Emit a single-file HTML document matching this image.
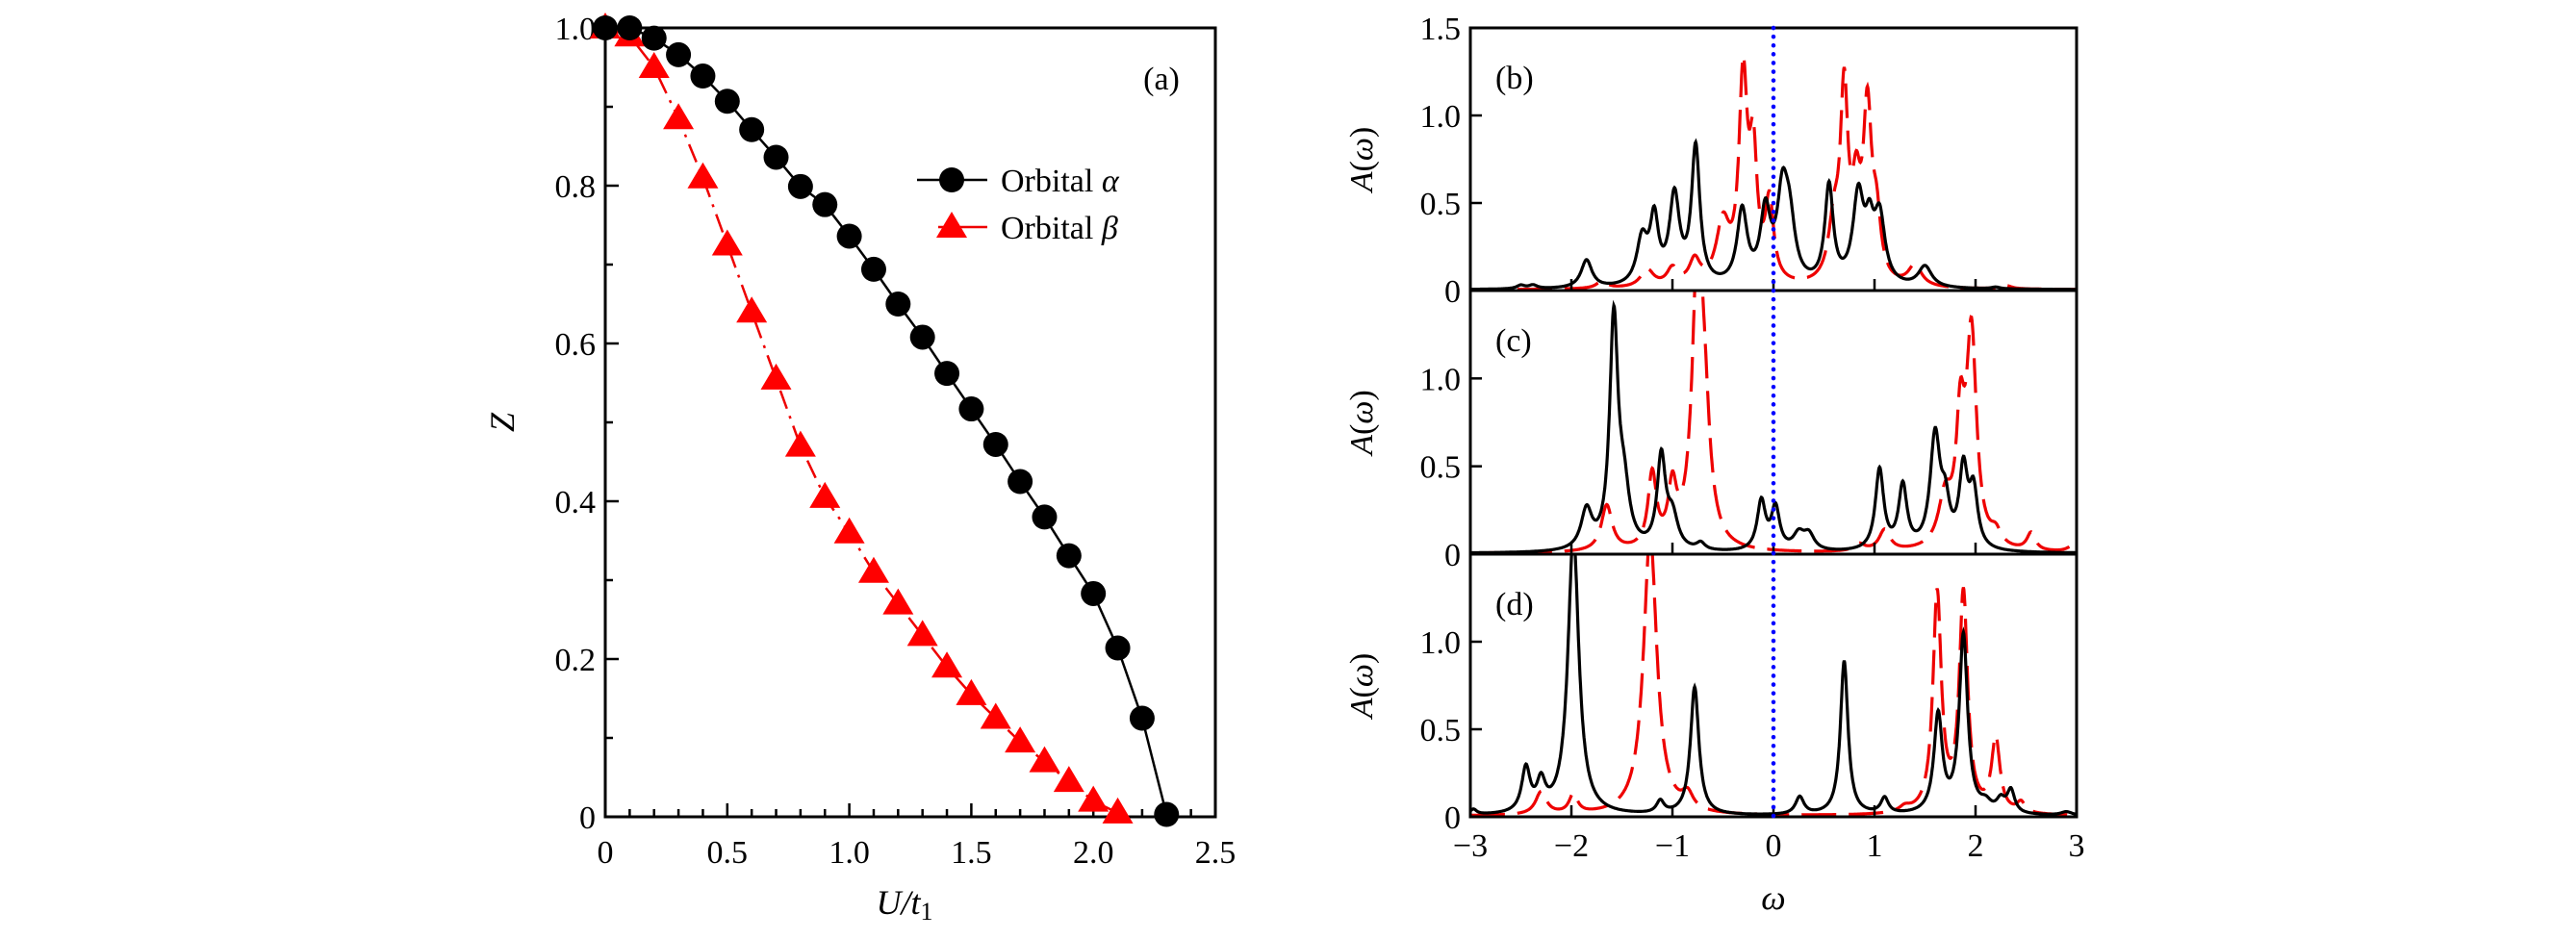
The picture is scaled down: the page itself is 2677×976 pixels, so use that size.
<!DOCTYPE html>
<html><head><meta charset="utf-8">
<style>
html,body{margin:0;padding:0;background:#fff;}
svg{display:block;}
text{font-family:"Liberation Serif","DejaVu Serif",serif;fill:#000;}
</style></head>
<body>
<svg id="fig" width="2677" height="976" viewBox="0 0 2677 976" xmlns="http://www.w3.org/2000/svg">
<defs>
<clipPath id="clipB"><rect x="1528" y="29" width="630" height="273"/></clipPath>
<clipPath id="clipC"><rect x="1528" y="302" width="630" height="274"/></clipPath>
<clipPath id="clipD"><rect x="1528" y="576" width="630" height="273"/></clipPath>
</defs>
<g id="left"></g>
<g id="right"></g>
</svg>
<script>
// ---- Panel (a) data ----
const uAlpha = [0,0.1,0.2,0.3,0.4,0.5,0.6,0.7,0.8,0.9,1.0,1.1,1.2,1.3,1.4,1.5,1.6,1.7,1.8,1.9,2.0,2.1,2.2,2.3];
const zAlpha = [1,1,0.987,0.966,0.939,0.907,0.871,0.836,0.799,0.776,0.736,0.694,0.650,0.608,0.562,0.517,0.472,0.425,0.380,0.331,0.283,0.214,0.125,0.003];
const uBeta = [0,0.1,0.2,0.3,0.4,0.5,0.6,0.7,0.8,0.9,1.0,1.1,1.2,1.3,1.4,1.5,1.6,1.7,1.8,1.9,2.0,2.1];
const zBeta = [1.0,0.99,0.95,0.885,0.81,0.725,0.64,0.555,0.47,0.405,0.36,0.31,0.27,0.23,0.19,0.155,0.125,0.095,0.07,0.045,0.02,0.005];
const aXTicks = [0,0.5,1.0,1.5,2.0,2.5];
const aXTickLabels = ["0","0.5","1.0","1.5","2.0","2.5"];
const aYTicks = [0,0.2,0.4,0.6,0.8,1.0];
const aYTickLabels = ["0","0.2","0.4","0.6","0.8","1.0"];

// ---- Spectral data (peak lists: center, height, half-width) ----
const bBlackC = [-2.5,-2.38,-1.85,-1.3,-1.18,-0.98,-0.77,-0.31,-0.08,0.09,0.16,0.55,0.84,0.95,1.05,1.5,2.2];
const bBlackH = [0.02,0.02,0.16,0.26,0.36,0.5,0.78,0.42,0.4,0.48,0.3,0.56,0.5,0.26,0.38,0.12,0.01];
const bBlackW = [0.05,0.05,0.065,0.065,0.05,0.06,0.05,0.06,0.06,0.065,0.065,0.05,0.065,0.05,0.065,0.08,0.05];
const bRedC = [-1.7,-1.25,-1.0,-0.78,-0.5,-0.3,-0.2,-0.04,0.6,0.7,0.82,0.93,1.02,1.4,2.3];
const bRedH = [0.04,0.1,0.1,0.14,0.34,1.15,0.68,0.45,0.32,1.05,0.45,0.95,0.32,0.12,0.02];
const bRedW = [0.065,0.08,0.065,0.065,0.08,0.05,0.045,0.05,0.065,0.045,0.05,0.05,0.05,0.08,0.065];
const cBlackC = [-1.85,-1.58,-1.48,-1.11,-1.0,-0.72,-0.12,0.02,0.25,0.35,1.05,1.28,1.6,1.7,1.88,1.98];
const cBlackH = [0.22,1.3,0.3,0.52,0.18,0.04,0.28,0.24,0.09,0.09,0.46,0.36,0.64,0.22,0.44,0.32];
const cBlackW = [0.065,0.05,0.065,0.05,0.065,0.05,0.05,0.05,0.065,0.065,0.05,0.05,0.06,0.05,0.05,0.05];
const cRedC = [-1.65,-1.2,-1.0,-0.75,-0.68,0.85,1.1,1.7,1.85,1.96,2.2,2.55,2.95];
const cRedH = [0.26,0.42,0.32,1.6,0.5,0.04,0.12,0.28,0.65,1.2,0.08,0.1,0.03];
const cRedW = [0.065,0.05,0.05,0.065,0.065,0.065,0.065,0.08,0.05,0.06,0.065,0.05,0.065];
const dBlackC = [-2.97,-2.45,-2.3,-1.98,-1.12,-0.78,0.26,0.7,1.1,1.63,1.88,2.1,2.25,2.35,2.9];
const dBlackH = [0.03,0.25,0.16,1.6,0.07,0.73,0.1,0.88,0.09,0.56,1.02,0.05,0.07,0.13,0.02];
const dBlackW = [0.04,0.05,0.05,0.065,0.045,0.05,0.05,0.045,0.045,0.05,0.05,0.065,0.05,0.045,0.065];
const dRedC = [-2.3,-1.98,-1.22,-0.85,1.3,1.62,1.88,2.2,2.45];
const dRedH = [0.13,0.11,1.6,0.09,0.03,1.25,1.25,0.42,0.06];
const dRedW = [0.065,0.05,0.08,0.065,0.065,0.05,0.05,0.05,0.05];
const wTicks = [-3,-2,-1,0,1,2,3];
const wTickLabels = ["\u22123","\u22122","\u22121","0","1","2","3"];

const NS = "http://www.w3.org/2000/svg";
function mk(tag, attrs, parent){const e=document.createElementNS(NS,tag);for(const k in attrs)e.setAttribute(k,attrs[k]);parent.appendChild(e);return e;}

// ---- Panel (a) ----
const L = document.getElementById('left');
const ax0=629, ax1=1263, ay0=849, ay1=29;
const xA = u => ax0 + (u/2.5)*(ax1-ax0);
const yA = z => ay0 - z*(ay0-ay1);
let fr = mk('rect',{x:ax0,y:ay1,width:ax1-ax0,height:ay0-ay1,fill:'none',stroke:'#000','stroke-width':3},L);


for(let i=0;i<=25;i++){const u=i*0.1;const len=(i%5===0)?14:8;
  const t=mk('line',{x1:xA(u),x2:xA(u),y1:ay0,y2:ay0-len,stroke:'#000','stroke-width':2.5},L);
  
  }
for(let i=0;i<=10;i++){const z=i*0.1;const len=(i%2===0)?14:8;
  const t=mk('line',{x1:ax0,x2:ax0+len,y1:yA(z),y2:yA(z),stroke:'#000','stroke-width':2.5},L);
  
  }
aXTicks.forEach((v,i)=>{const t=mk('text',{x:xA(v),y:ay0+48,'font-size':34,'text-anchor':'middle'},L);t.textContent=aXTickLabels[i];
  
  });
aYTicks.forEach((v,i)=>{const t=mk('text',{x:ax0-10,y:yA(v)+12,'font-size':34,'text-anchor':'end'},L);t.textContent=aYTickLabels[i];
  
  });
let tt=mk('text',{x:xA(1.25)-6,y:950,'font-size':36,'font-style':'italic','text-anchor':'middle'},L);
tt.innerHTML='U/t<tspan font-style="normal" font-size="26" dy="6">1</tspan>';


tt=mk('text',{x:0,y:0,'font-size':36,'font-style':'italic','text-anchor':'middle',transform:`translate(534,${(ay0+ay1)/2}) rotate(-90)`},L);
tt.textContent='Z';


tt=mk('text',{x:1207,y:93,'font-size':34,'text-anchor':'middle'},L);tt.textContent='(a)';


let pl=mk('polyline',{points:uBeta.map((u,i)=>xA(u)+','+yA(zBeta[i])).join(' '),fill:'none',stroke:'#e00','stroke-width':2.5,'stroke-dasharray':'20 8 3 8'},L);


uBeta.forEach((u,i)=>{const x=xA(u),y=yA(zBeta[i]);
  const p=mk('polygon',{points:`${x},${y-16} ${x-16},${y+11} ${x+16},${y+11}`,fill:'#f00'},L);
  
  });
pl=mk('polyline',{points:uAlpha.map((u,i)=>xA(u)+','+yA(zAlpha[i])).join(' '),fill:'none',stroke:'#000','stroke-width':2.5},L);


uAlpha.forEach((u,i)=>{const c=mk('circle',{cx:xA(u),cy:yA(zAlpha[i]),r:13,fill:'#000'},L);
  
  });
const lg=mk('g',{},L);


mk('line',{x1:953,x2:1026,y1:187,y2:187,stroke:'#000','stroke-width':2.5},lg);
mk('circle',{cx:989,cy:187,r:13,fill:'#000'},lg);
let lt=mk('text',{x:1040,y:199,'font-size':34},lg);lt.innerHTML='Orbital <tspan font-style="italic">α</tspan>';


mk('line',{x1:975,x2:1026,y1:236,y2:236,stroke:'#e00','stroke-width':2.5},lg);
mk('polygon',{points:'989,220 973,247 1005,247',fill:'#f00'},lg);
lt=mk('text',{x:1040,y:248,'font-size':34},lg);lt.innerHTML='Orbital <tspan font-style="italic">β</tspan>';



// ---- Spectral panels ----
const R=document.getElementById('right');
const bx0=1528,bx1=2158;
const xW = w => bx0 + (w+3)/6*(bx1-bx0);
const panels=[
 {top:29,bot:302,lab:'(b)',clip:'clipB',yt:[0,0.5,1.0,1.5],ytl:["0","0.5","1.0","1.5"],bc:bBlackC,bh:bBlackH,bw:bBlackW,rc:bRedC,rh:bRedH,rw:bRedW,name:'b'},
 {top:302,bot:576,lab:'(c)',clip:'clipC',yt:[0,0.5,1.0],ytl:["0","0.5","1.0"],bc:cBlackC,bh:cBlackH,bw:cBlackW,rc:cRedC,rh:cRedH,rw:cRedW,name:'c'},
 {top:576,bot:849,lab:'(d)',clip:'clipD',yt:[0,0.5,1.0],ytl:["0","0.5","1.0"],bc:dBlackC,bh:dBlackH,bw:dBlackW,rc:dRedC,rh:dRedH,rw:dRedW,name:'d'}];
function spec(C,H,W){const pts=[];for(let i=0;i<=1200;i++){const w=-3+i*0.005;let s=0.004;
  for(let k=0;k<C.length;k++){const d=w-C[k];s+=H[k]*W[k]*W[k]/(d*d+W[k]*W[k]);}pts.push([w,s]);}return pts;}
panels.forEach(p=>{
  const yS = a => p.bot - a/1.5*(p.bot-p.top);
  const g=mk('g',{},R);
  
  
  const cg=mk('g',{'clip-path':`url(#${p.clip})`},g);
  let red=mk('polyline',{points:spec(p.rc,p.rh,p.rw).map(q=>xW(q[0]).toFixed(1)+','+yS(q[1]).toFixed(1)).join(' '),fill:'none',stroke:'#e00','stroke-width':3.2,'stroke-dasharray':'36 13'},cg);
  
  
  let blk=mk('polyline',{points:spec(p.bc,p.bh,p.bw).map(q=>xW(q[0]).toFixed(1)+','+yS(q[1]).toFixed(1)).join(' '),fill:'none',stroke:'#000','stroke-width':3.2},cg);
  
  
  let fr=mk('rect',{x:bx0,y:p.top,width:bx1-bx0,height:p.bot-p.top,fill:'none',stroke:'#000','stroke-width':3},g);
  
  
  wTicks.forEach(w=>{const t=mk('line',{x1:xW(w),x2:xW(w),y1:p.bot,y2:p.bot-12,stroke:'#000','stroke-width':2.5},g);
    
    });
  p.yt.forEach((v,i)=>{const t=mk('line',{x1:bx0,x2:bx0+12,y1:yS(v),y2:yS(v),stroke:'#000','stroke-width':2.5},g);
    
    
    const tl=mk('text',{x:bx0-10,y:yS(v)+12,'font-size':34,'text-anchor':'end'},g);tl.textContent=p.ytl[i];
    
    });
  let lb=mk('text',{x:1554,y:p.top+63,'font-size':34},g);lb.textContent=p.lab;
  
  
  let yt=mk('text',{x:0,y:0,'font-size':34,'text-anchor':'middle',transform:`translate(1426,${(p.top+p.bot)/2}) rotate(-90)`},g);
  yt.innerHTML='<tspan font-style="italic">A</tspan>(<tspan font-style="italic">ω</tspan>)';
  
  
});
let fl=mk('line',{x1:xW(0),x2:xW(0),y1:29,y2:849,stroke:'#00f','stroke-width':4.5,'stroke-dasharray':'0.1 9','stroke-linecap':'round'},R);


wTicks.forEach((w,i)=>{const t=mk('text',{x:xW(w),y:890,'font-size':34,'text-anchor':'middle'},R);t.textContent=wTickLabels[i];
  
  });
let xt=mk('text',{x:xW(0),y:945,'font-size':36,'font-style':'italic','text-anchor':'middle'},R);xt.textContent='ω';


</script>
</body></html>
